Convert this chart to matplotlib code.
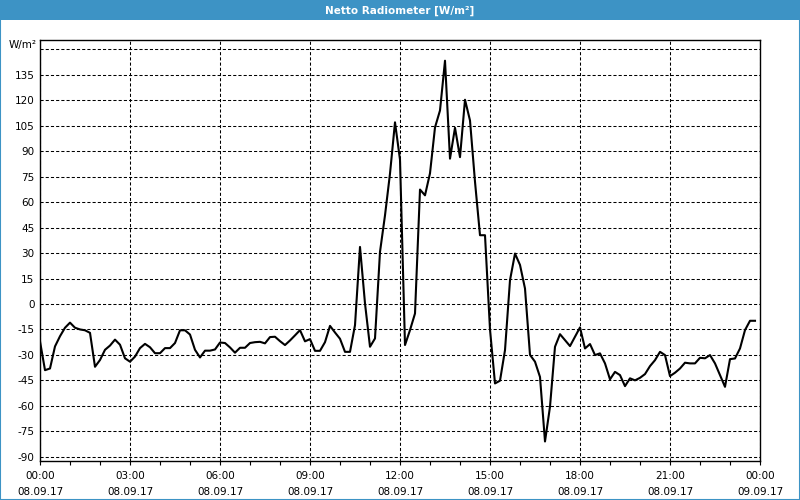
import matplotlib
matplotlib.use("Agg")
import matplotlib.pyplot as plt
import matplotlib.dates as mdates
import pandas as pd
from matplotlib.patches import Rectangle

''' Werte alle 10 Minuten, 08.09.17 00:00 bis 23:50 '''
werte = [
    -22, -39, -38, -25, -19, -14, -11, -14, -15, -15.5, -17, -37,
    -33, -27, -24.5, -21, -24, -32, -34, -31, -26, -23.5, -25.5, -29,
    -29, -26, -26, -23, -15.5, -15.5, -18, -27, -31.5, -27.5, -27.5, -26.8,
    -22.7, -23, -25.6, -28.7, -25.8, -25.8, -23, -22.5, -22.3, -23.2, -19.5, -19.3,
    -21.9, -24.2, -21.5, -18.5, -15.4, -22, -20.7, -27.6, -27.6, -22.5, -12.9, -16.8,
    -20.5, -28.2, -28.2, -12.5, 33.6, 0.3, -25.2, -20.3, 30.7, 52.2, 76.8, 107,
    85, -24.2, -15.4, -5.6, 67.4, 64, 77, 104, 114, 143.3, 85.6, 103.8,
    86.5, 120.3, 108.1, 72, 40.5, 40.5, -15, -46.8, -45.2, -27.2, 14, 29.7,
    23, 9.1, -30, -34, -43, -81, -60.5, -25.2, -17.8, -21.3, -24.8, -19.3,
    -13.8, -26.2, -23.6, -30.1, -29.1, -35, -44.4, -40, -41.9, -48.4, -43.8, -45,
    -43.5, -41.3, -36.6, -33.1, -28.2, -30.1, -42.5, -40.5, -38, -34.6, -35, -35,
    -31.7, -32, -30.1, -35, -41.9, -48.8, -32.5, -32.1, -26.2, -15.4, -9.9, -9.9,
]
zeiten = pd.date_range("2017-09-08 00:00", periods=len(werte), freq="10min")

y_ticks = list(range(-90, 151, 15))
y_labels = [str(v) for v in y_ticks[:-1]] + [""]

blau = "#3d93c5"

fig = plt.figure(figsize=(8, 5), dpi=100)
fig.patch.set_facecolor("white")

''' Titelleiste und Rahmen '''
fig.patches.append(Rectangle((0, 0.96), 1, 0.04, transform=fig.transFigure,
                             facecolor=blau, edgecolor="none", zorder=0))
fig.patches.append(Rectangle((0.0006, 0.001), 0.9988, 0.998, transform=fig.transFigure,
                             facecolor="none", edgecolor=blau, linewidth=1.5, zorder=0))
fig.text(0.5, 0.979, "Netto Radiometer [W/m²]", color="white", fontsize=7.5,
         fontweight="bold", ha="center", va="center")

ax = fig.add_axes([0.05, 0.078, 0.90, 0.842])
ax.plot(zeiten, werte, color="black", linewidth=1.5, zorder=3)

ax.set_xlim(pd.Timestamp("2017-09-08 00:00"), pd.Timestamp("2017-09-09 00:00"))
ax.set_ylim(-92.5, 155.5)

ax.xaxis.set_major_locator(mdates.HourLocator(byhour=range(0, 24, 3)))
ax.xaxis.set_minor_locator(mdates.HourLocator())
ax.xaxis.set_major_formatter(mdates.DateFormatter("%H:%M\n%d.%m.%y"))
ax.set_yticks(y_ticks)
ax.set_yticklabels(y_labels)

ax.tick_params(axis="x", which="both", direction="out", length=3, width=0.8,
               labelsize=7.5, pad=4)
ax.tick_params(axis="y", length=0, labelsize=7.5, pad=4)
for lbl in ax.get_xticklabels():
    lbl.set_linespacing(1.75)

ax.grid(True, which="major", color="black", linestyle=(0, (3, 2)), linewidth=0.75)
for s in ax.spines.values():
    s.set_linewidth(1.0)
    s.set_color("black")

fig.text(37 / 800, 1 - 45 / 500, "W/m²", fontsize=7.5, ha="right", va="center")

fig.savefig("out.png", dpi=100)
